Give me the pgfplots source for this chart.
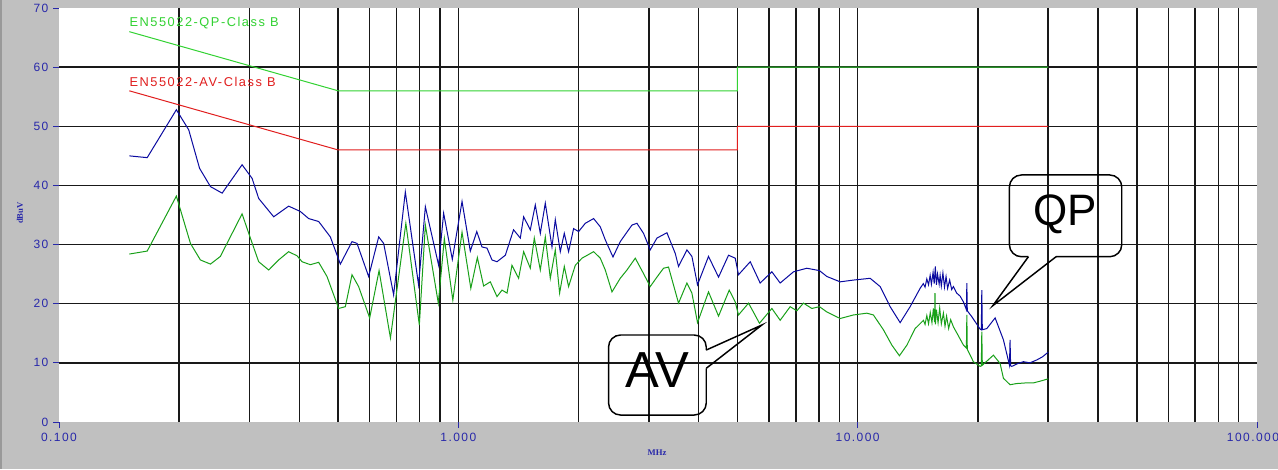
\documentclass[border=0pt]{standalone}
\usepackage{fontspec}
\setmainfont{Liberation Sans}
\newfontfamily\lblfont[LetterSpace=12]{Liberation Sans}
\newfontfamily\axfont{Liberation Serif}
\usepackage{pgfplots}
\pgfplotsset{compat=1.18}
\usepackage{pgfplotstable}

\definecolor{bggray}{RGB}{192,192,192}
\definecolor{tickblue}{RGB}{40,40,170}
\definecolor{qpblue}{RGB}{10,10,160}
\definecolor{avgreen}{RGB}{25,160,25}
\definecolor{limgreen}{RGB}{50,210,50}
\definecolor{limred}{RGB}{225,30,30}
\definecolor{gridc}{RGB}{25,25,25}

\pgfplotstableread{
f db
0.15 45.0
0.1663 44.7
0.1968 52.8
0.2113 49.4
0.2249 42.9
0.2395 39.8
0.2562 38.7
0.2874 43.5
0.3045 41.2
0.3163 37.8
0.3449 34.7
0.3759 36.5
0.4021 35.6
0.4219 34.4
0.4470 33.9
0.4781 31.3
0.5065 26.7
0.5417 30.5
0.5576 30.2
0.5963 24.6
0.6318 31.3
0.6502 30.2
0.6887 21.5
0.7368 38.9
0.7953 23.2
0.8269 36.4
0.8927 26.5
0.9188 35.3
0.9660 27.5
1.0216 37.3
1.0715 28.9
1.1125 32.2
1.1462 29.6
1.1799 29.4
1.2143 27.4
1.2498 27.1
1.3113 28.2
1.3751 32.5
1.4297 31.1
1.4573 34.7
1.5144 32.5
1.5587 36.7
1.6044 31.9
1.6513 37.0
1.7162 29.6
1.7494 34.2
1.8005 28.8
1.8425 31.9
1.8888 28.8
1.9440 32.7
2.0008 32.2
2.0797 33.6
2.1817 34.4
2.2673 33.0
2.3335 30.8
2.4393 27.9
2.5438 30.5
2.7214 33.3
2.8009 33.6
2.9093 31.9
3.0240 29.1
3.1433 31.1
3.3296 32.0
3.4933 28.5
3.5600 26.3
3.7362 29.1
3.8459 28.0
3.9719 23.2
4.2316 28.0
4.4836 24.5
4.7497 28.2
4.9370 27.7
5.0305 24.9
5.3827 27.1
5.6993 23.5
6.0979 25.4
6.3973 23.5
6.9087 25.4
7.4613 26.0
8.0236 25.6
8.3749 24.6
9.0408 23.7
9.7610 24.0
10.747 24.3
11.384 22.9
12.060 19.5
12.777 16.8
13.534 19.5
14.335 22.6
14.6 23.4
14.75 22.8
14.9 24.2
15.05 23.2
15.19 24.8
15.3 23.3
15.45 25.3
15.55 23.4
15.65 26.3
15.75 23.2
15.85 25.0
16.0 23.3
16.09 24.8
16.2 23.0
16.35 25.2
16.5 22.8
16.65 24.6
16.8 22.6
17.0 24.0
17.2 22.4
17.37 22.9
17.7 21.8
18.05 21.3
18.404 20.3
18.72 19.0
18.77 23.5
18.82 18.8
19.316 17.8
20.264 15.7
20.40 15.6
20.46 22.3
20.52 15.6
21.058 15.8
22.093 17.6
23.174 13.9
24.00 9.6
24.08 13.9
24.16 9.5
24.322 9.4
25.0 9.8
26.0 10.2
27.0 10.0
28.1 10.5
29.0 11.0
30.0 11.8
}\qpdata

\pgfplotstableread{
f db
0.15 28.4
0.1663 28.9
0.1968 38.2
0.2134 30.2
0.2260 27.4
0.2395 26.7
0.2536 28.0
0.2874 35.2
0.3015 31.1
0.3163 27.1
0.3351 25.7
0.3549 27.4
0.3759 28.8
0.3947 28.1
0.4062 27.1
0.4260 26.6
0.4470 27.0
0.4690 24.6
0.5016 19.2
0.5213 19.5
0.5417 24.9
0.5628 22.9
0.5998 17.6
0.6332 25.6
0.6761 14.2
0.7390 33.6
0.7988 16.4
0.8269 33.3
0.8910 20.1
0.9226 31.0
0.9688 20.6
1.0216 32.1
1.0747 22.6
1.1160 27.8
1.1570 23.0
1.2025 23.7
1.2498 21.2
1.2863 22.3
1.3243 21.8
1.3624 26.5
1.4156 24.3
1.4573 28.8
1.5144 26.0
1.5497 31.1
1.6044 25.7
1.6513 31.3
1.6997 24.3
1.7494 29.1
1.7934 21.8
1.8425 26.3
1.8888 22.9
1.9632 26.5
2.0404 27.7
2.1817 28.8
2.2673 27.7
2.3335 25.7
2.4253 22.0
2.5438 24.3
2.6443 25.7
2.7741 27.7
2.9093 25.1
3.0240 22.9
3.1433 24.5
3.2650 26.0
3.3605 26.2
3.5600 20.1
3.7362 23.5
3.8459 21.8
3.9719 16.8
4.2316 22.0
4.4836 17.9
4.7686 22.3
4.9370 20.3
5.0305 18.1
5.3309 20.1
5.6770 16.7
6.0979 19.2
6.3973 17.2
6.7764 19.5
7.0432 18.8
7.3155 20.1
7.6805 19.2
8.0236 19.5
8.3749 18.6
9.0408 17.5
9.7610 18.1
10.544 18.4
10.951 18.1
11.600 15.6
12.180 13.0
12.723 11.2
13.282 13.0
13.930 15.8
14.613 17.2
14.75 16.5
14.9 18.0
15.05 16.6
15.2 18.5
15.35 16.8
15.477 19.2
15.58 16.9
15.62 21.8
15.66 16.5
15.75 19.0
15.9 16.8
16.05 19.3
16.2 16.6
16.398 18.4
16.55 16.2
16.7 17.9
16.9 15.8
17.1 17.3
17.37 16.1
17.9 14.5
18.404 13.0
18.72 12.5
18.77 18.1
18.82 12.3
19.491 10.2
20.264 9.4
20.40 9.5
20.46 15.3
20.52 9.6
21.875 11.3
22.735 9.9
23.174 7.4
24.080 6.3
25.0 6.5
26.261 6.6
27.5 6.6
28.630 6.9
30.0 7.3
}\avdata

\begin{document}
\begin{tikzpicture}
\fill[bggray] (-44.25pt,-35.25pt) rectangle (914.25pt,316.5pt);
\fill[black!40] (-44.25pt,-35.25pt) rectangle (-42.75pt,316.5pt);
\begin{axis}[
  at={(0pt,0pt)}, anchor=south west,
  scale only axis, width=898.5pt, height=310.5pt,
  xmode=log, xmin=0.1, xmax=100, ymin=0, ymax=70,
  axis background/.style={fill=white},
  axis line style={draw=none},
  xtick={0.1,1,10,100},
  xticklabels={0.100,1.000,10.000,100.000\hspace*{6pt}},
  ytick={0,10,20,30,40,50,60,70},
  yticklabels={0,10,20,30,40,50,60,70},
  minor xtick={0.2,0.3,0.4,0.5,0.6,0.7,0.8,0.9,1,2,3,4,5,6,7,8,9,10,20,30,40,50,60,70,80,90},
  minor ytick={10,20,30,40,50,60},
  xmajorgrids=false, ymajorgrids=false,
  xminorgrids=true, yminorgrids=true,
  minor grid style={gridc, line width=1.1pt},
  tick align=outside, xtick pos=bottom, ytick pos=left,
  major tick length=4.5pt, minor tick length=0pt,
  tick style={tickblue, line width=0.7pt},
  ticklabel style={font=\lblfont\fontsize{9}{10}\selectfont, text=tickblue},
]
\addplot[limgreen, line width=0.75pt] coordinates {(0.15,66) (0.5,56) (5,56) (5,60) (30,60)};
\addplot[limred, line width=0.75pt] coordinates {(0.15,56) (0.5,46) (5,46) (5,50) (30,50)};
\addplot[avgreen, line width=0.75pt] table[x=f, y=db] {\avdata};
\addplot[qpblue, line width=0.75pt] table[x=f, y=db] {\qpdata};
\node[anchor=west, inner sep=0pt, text=limgreen, font=\lblfont\fontsize{9.6}{10}\selectfont] at (axis cs:0.15,67.5) {EN55022-QP-Class B};
\node[anchor=west, inner sep=0pt, text=limred, font=\lblfont\fontsize{9.6}{10}\selectfont] at (axis cs:0.15,57.5) {EN55022-AV-Class B};
% QP callout
\draw[black, line width=1.1pt, rounded corners=9pt] (axis cs:31.40,27.95) -- (axis cs:45.85,27.95) -- (axis cs:45.85,41.77) -- (axis cs:23.99,41.77) -- (axis cs:23.99,27.95) -- (axis cs:26.77,27.95);
\draw[black, line width=1.1pt, line join=miter] (axis cs:26.77,27.95) -- (axis cs:21.80,19.67) -- (axis cs:31.40,27.95);
\node[anchor=base, inner sep=0pt, font=\fontsize{33}{36}\selectfont] at (axis cs:33.07,33.31) {QP};
% AV callout
\draw[black, line width=1.1pt, rounded corners=9pt] (axis cs:4.177,9.08) -- (axis cs:4.177,1.18) -- (axis cs:2.378,1.18) -- (axis cs:2.378,14.71) -- (axis cs:4.177,14.71) -- (axis cs:4.177,12.17);
\draw[black, line width=1.1pt, line join=miter] (axis cs:4.177,12.17) -- (axis cs:5.757,16.40) -- (axis cs:4.177,9.08);
\node[anchor=base, inner sep=0pt, font=\fontsize{38}{40}\selectfont] at (axis cs:3.148,5.87) {AV};
\end{axis}
\node[text=tickblue, font=\axfont\bfseries\fontsize{6.5}{7}\selectfont, rotate=90] at (-29.25pt,156.75pt) {dBuV};
\node[text=tickblue, font=\axfont\bfseries\fontsize{6.5}{7}\selectfont] at (448.5pt,-23.25pt) {MHz};
\pgfresetboundingbox
\path (-44.25pt,-35.25pt) rectangle (914.25pt,316.5pt);
\end{tikzpicture}
\end{document}
